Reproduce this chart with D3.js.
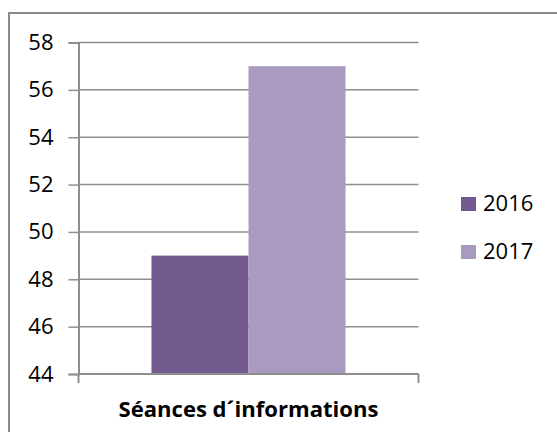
<!DOCTYPE html>
<html>
<head>
<meta charset="utf-8">
<script src="https://cdn.jsdelivr.net/npm/d3@7/dist/d3.min.js"></script>
<style>
  html, body { margin: 0; padding: 0; background: #fff; }
  svg { display: block; }
</style>
</head>
<body>
<svg id="chart" width="557" height="432"></svg>
<script>
const categories = ["Séances d´informations"];
const seriesNames = ["2016", "2017"];
const values2016 = [49];
const values2017 = [57];
const yTicks = [44, 46, 48, 50, 52, 54, 56, 58];
const colors = ["#725a8f", "#a99bbf"];

(function () {
const svg = d3.select("#chart");
const font = "'Open Sans', 'Liberation Sans', sans-serif";
const gridColor = "#8e8e8e";

// outer border
svg.append("rect")
  .attr("x", 9).attr("y", 13)
  .attr("width", 560).attr("height", 440)
  .attr("fill", "none").attr("stroke", "#8a8a8a").attr("stroke-width", 2);

const pLeft = 78.5, pRight = 418.5, pTop = 42.5, pBottom = 374;

const y = d3.scaleLinear().domain([44, 58]).range([pBottom, pTop]);
const x0 = d3.scaleBand().domain(categories).range([pLeft, pRight]).paddingInner(0).paddingOuter(0.376);
const x1 = d3.scaleBand().domain(seriesNames).range([0, x0.bandwidth()]).padding(0);

// gridlines
svg.append("g").selectAll("line").data(yTicks).join("line")
  .attr("x1", pLeft).attr("x2", pRight)
  .attr("y1", d => y(d)).attr("y2", d => y(d))
  .attr("stroke", gridColor).attr("stroke-width", 1.5);

// y axis
const yAxis = d3.axisLeft(y).tickValues(yTicks).tickSize(10).tickPadding(15).tickFormat(d3.format("d"));
const gy = svg.append("g").attr("transform", `translate(${pLeft},0)`).call(yAxis);
gy.select(".domain").attr("stroke", gridColor).attr("stroke-width", 2);
gy.selectAll(".tick line").attr("stroke", gridColor).attr("stroke-width", 1.5);
gy.selectAll(".tick text").attr("fill", "#000").attr("font-family", font).attr("font-size", 22);

// bars
const series = [values2016, values2017];
const gBars = svg.append("g");
categories.forEach((c, ci) => {
  gBars.selectAll(null).data(seriesNames).join("rect")
    .attr("x", (s) => x0(c) + x1(s))
    .attr("width", x1.bandwidth())
    .attr("y", (s, i) => y(series[i][ci]))
    .attr("height", (s, i) => pBottom - y(series[i][ci]))
    .attr("fill", (s, i) => colors[i]);
});

// x axis
svg.append("line").attr("x1", pLeft).attr("x2", pRight).attr("y1", pBottom).attr("y2", pBottom)
  .attr("stroke", gridColor).attr("stroke-width", 2);
[pLeft, pRight].forEach(xx => {
  svg.append("line").attr("x1", xx).attr("x2", xx).attr("y1", pBottom).attr("y2", pBottom + 9)
    .attr("stroke", gridColor).attr("stroke-width", 2);
});

// category label
svg.append("text")
  .attr("x", x0(categories[0]) + x0.bandwidth() / 2)
  .attr("y", 417)
  .attr("text-anchor", "middle")
  .attr("font-family", font)
  .attr("font-weight", "bold")
  .attr("font-size", 22)
  .attr("textLength", 260)
  .attr("lengthAdjust", "spacingAndGlyphs")
  .attr("fill", "#000")
  .text(categories[0]);

// legend
const legend = svg.append("g");
seriesNames.forEach((s, i) => {
  const ly = 197 + i * 48;
  legend.append("rect").attr("x", 461).attr("y", ly).attr("width", 15).attr("height", 14).attr("fill", colors[i]);
  legend.append("text").attr("x", 483).attr("y", ly + 14)
    .attr("font-family", font).attr("font-size", 22).attr("fill", "#000").text(s);
});
})();
</script>
</body>
</html>
